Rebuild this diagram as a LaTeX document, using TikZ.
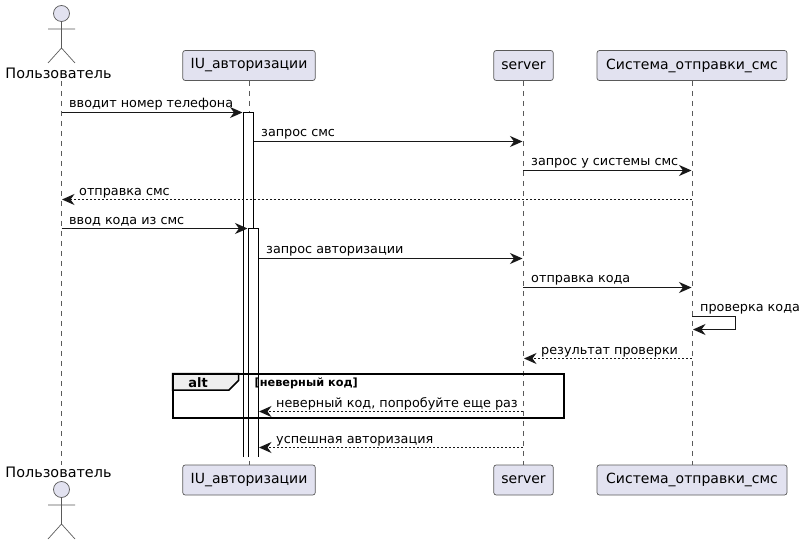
\documentclass[tikz,border=0pt]{standalone}
\usepackage{fontspec}
\setmainfont{DejaVu Sans}
\usetikzlibrary{arrows.meta,calc}
\definecolor{ink}{HTML}{181818}
\definecolor{thin}{HTML}{5A5A5A}
\definecolor{partfill}{HTML}{E2E2F0}
\definecolor{tabfill}{HTML}{EEEEEE}
\tikzset{
  partbox/.style={draw=thin,line width=0.7pt,fill=partfill,rounded corners=2.5pt,minimum height=30pt,inner sep=0pt,font=\fontsize{14}{16}\selectfont,text=black},
  lifeline/.style={draw=thin,line width=0.6pt,dash pattern=on 5pt off 5pt},
  stickman/.style={draw=thin,line width=0.7pt},
  sync/.style={draw=ink,line width=1pt,-{Stealth[length=12.5pt,width=11pt,inset=4pt,color=ink]}},
  reply/.style={sync,dash pattern=on 2pt off 2pt},
  msgtext/.style={anchor=base west,inner sep=0pt,font=\fontsize{12.8}{15}\selectfont,text=black},
  actortext/.style={anchor=base,inner sep=0pt,font=\fontsize{14.4}{16}\selectfont,text=black},
}
\begin{document}
\begin{tikzpicture}[x=1pt,y=-1pt]
\useasboundingbox (0,0) rectangle (806,545);
\fill[white] (0,0) rectangle (806,545);
% participants
\node[partbox,minimum width=132.5pt] (iut) at (249,65.5) {IU\_авторизации};
\node[partbox,minimum width=59.5pt] (srvt) at (523.5,65.5) {server};
\node[partbox,minimum width=190pt] (smst) at (692,65.5) {Система\_отправки\_смс};
\node[partbox,minimum width=132.5pt] (iub) at (249,480) {IU\_авторизации};
\node[partbox,minimum width=59.5pt] (srvb) at (523.5,480) {server};
\node[partbox,minimum width=190pt] (smsb) at (692,480) {Система\_отправки\_смс};
\node[actortext] (usrt) at (58.5,78.5) {Пользователь};
\node[actortext] (usrb) at (58.5,477.5) {Пользователь};
% actors
\draw[stickman,fill=partfill] (61.5,13.5) circle (8);
\draw[stickman] (61.5,21.5) -- (61.5,48) (48,29) -- (75,29) (48,63) -- (61.5,48) -- (75,63);
\draw[stickman,fill=partfill] (61.5,489.5) circle (8);
\draw[stickman] (61.5,497.5) -- (61.5,524) (48,505) -- (75,505) (48,539) -- (61.5,524) -- (75,539);
% lifelines
\coordinate (uT) at (61.5,81); \coordinate (uB) at (61.5,465);
\draw[lifeline] (uT) -- (uB);
\draw[lifeline] (iut) -- (iub);
\draw[lifeline] (srvt) -- (srvb);
\draw[lifeline] (smst) -- (smsb);
% activations: open at the bottom
\fill[white] (243.5,112.5) rectangle (253.5,457);
\draw[draw=black,line width=1pt] (243.5,457) -- (243.5,112.5) -- (253.5,112.5) -- (253.5,457);
\fill[white] (248.5,228.5) rectangle (258.5,457);
\draw[draw=black,line width=1pt] (248.5,457) -- (248.5,228.5) -- (258.5,228.5) -- (258.5,457);
% named ends
\coordinate (a1) at (61.5,112.5); \coordinate (b1) at (242.5,112.5);
\coordinate (a2) at (253.5,141.5); \coordinate (b2) at (522.5,141.5);
\coordinate (a3) at (523,170.5); \coordinate (b3) at (691.5,170.5);
\coordinate (a4) at (691.5,199.5); \coordinate (b4) at (62,199.5);
\coordinate (a5) at (61.5,228.5); \coordinate (b5) at (247.5,228.5);
\coordinate (a6) at (258.5,258.5); \coordinate (b6) at (522.5,258.5);
\coordinate (a7) at (523,287.5); \coordinate (b7) at (691.5,287.5);
\coordinate (a8) at (692,316.5); \coordinate (c8) at (735,316.5); \coordinate (d8) at (735,329.5); \coordinate (b8) at (693,329.5);
\coordinate (a9) at (691.5,358.5); \coordinate (b9) at (524,358.5);
\coordinate (a10) at (522.5,411.5); \coordinate (b10) at (259,411.5);
\coordinate (a11) at (522.5,447.5); \coordinate (b11) at (259,447.5);
% messages
\draw[sync] (a1) -- (b1);
\draw[sync] (a2) -- (b2);
\draw[sync] (a3) -- (b3);
\draw[reply] (a4) -- (b4);
\draw[sync] (a5) -- (b5);
\draw[sync] (a6) -- (b6);
\draw[sync] (a7) -- (b7);
\draw[sync] (a8) -- (c8) -- (d8) -- (b8);
\draw[reply] (a9) -- (b9);
\draw[reply] (a10) -- (b10);
\draw[reply] (a11) -- (b11);
\node[msgtext] (t1) at (69,108) {вводит номер телефона};
\node[msgtext] (t2) at (261,137) {запрос смс};
\node[msgtext] (t3) at (531,166) {запрос у системы смс};
\node[msgtext] (t4) at (79,195.5) {отправка смс};
\node[msgtext] (t5) at (69,224.5) {ввод кода из смс};
\node[msgtext] (t6) at (266,254) {запрос авторизации};
\node[msgtext] (t7) at (531,283) {отправка кода};
\node[msgtext] (t8) at (700,312) {проверка кода};
\node[msgtext] (t9) at (541,354) {результат проверки};
\node[msgtext] (t10) at (276,407) {неверный код, попробуйте еще раз};
\node[msgtext] (t11) at (276,443) {успешная авторизация};
% alt frame
\draw[draw=black,line width=1.5pt,fill=tabfill] (172.5,373.5) -- (238.5,373.5) -- (238.5,380.5) -- (229,390) -- (172.5,390) -- cycle;
\draw[draw=black,line width=2pt] (172.5,373.5) rectangle (563.5,418);
\node[anchor=base,inner sep=0pt,font=\fontsize{13}{15}\selectfont\bfseries,text=black] (alt) at (198,387) {alt};
\node[anchor=base west,inner sep=0pt,font=\fontsize{11.3}{13}\selectfont\bfseries,text=black] (cond) at (254.5,386) {[неверный код]};
\end{tikzpicture}
\end{document}
